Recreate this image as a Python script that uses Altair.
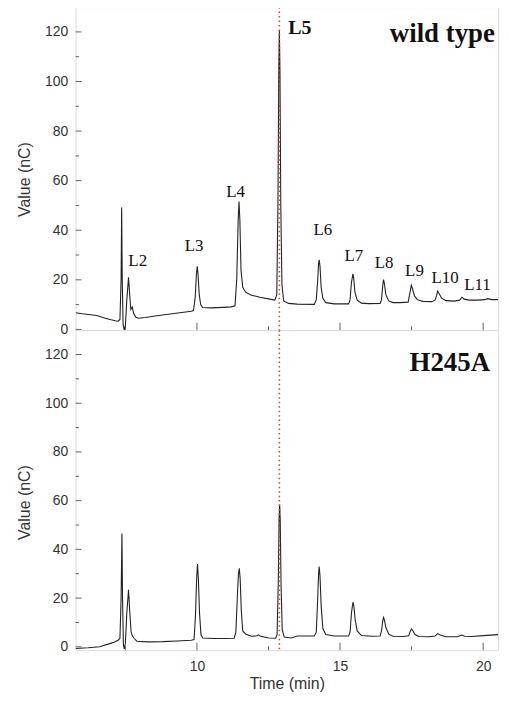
import altair as alt
import pandas as pd

# ---------------- data ----------------
# wild type trace (time in min, value in nC)
wt_time = [5.76, 6.0, 6.5, 6.8, 7.0, 7.15, 7.25, 7.31, 7.35, 7.37, 7.39, 7.42, 7.46,
           7.50, 7.55, 7.61, 7.65, 7.69, 7.74, 7.79, 7.86, 7.95, 8.2, 8.6, 9.0, 9.4,
           9.8, 9.88, 9.94, 9.98, 10.01, 10.04, 10.08, 10.13, 10.2, 10.5, 10.9, 11.2,
           11.33, 11.39, 11.44, 11.47, 11.50, 11.54, 11.6, 11.7, 11.9, 12.2, 12.5,
           12.72, 12.79, 12.83, 12.86, 12.88, 12.90, 12.93, 12.97, 13.03, 13.2, 13.5,
           14.1, 14.17, 14.22, 14.25, 14.27, 14.30, 14.34, 14.4, 14.5, 14.8, 15.3,
           15.35, 15.40, 15.45, 15.48, 15.52, 15.6, 15.75, 16.0, 16.4, 16.45, 16.49,
           16.52, 16.55, 16.6, 16.7, 16.85, 17.1, 17.38, 17.43, 17.49, 17.53, 17.6,
           17.7, 17.9, 18.2, 18.32, 18.37, 18.41, 18.46, 18.55, 18.7, 19.0, 19.18,
           19.26, 19.34, 19.5, 19.8, 20.05, 20.16, 20.3, 20.52]
wt_value = [6.7, 6.3, 5.6, 4.5, 3.9, 3.5, 3.3, 4.0, 20.0, 49.2, 20.0, 2.0, -0.3,
            1.5, 12.0, 21.0, 14.0, 8.0, 9.0, 6.5, 5.0, 4.5, 4.8, 5.5, 6.1, 6.7,
            7.3, 7.6, 13.0, 22.0, 25.5, 22.0, 14.0, 10.0, 8.8, 8.7, 8.9, 9.1,
            9.5, 20.0, 44.0, 51.6, 44.0, 24.0, 17.0, 15.0, 13.8, 13.0, 12.3,
            11.8, 14.0, 50.0, 105.0, 120.5, 105.0, 50.0, 18.0, 11.5, 10.5, 10.2,
            10.1, 12.0, 20.0, 26.5, 28.1, 25.5, 17.0, 12.5, 10.8, 10.3, 10.3,
            12.0, 19.0, 22.4, 20.5, 15.0, 11.8, 10.6, 10.4, 10.5, 12.0, 17.5,
            20.1, 18.5, 14.0, 11.5, 10.8, 10.8, 11.0, 14.0, 17.8, 16.5, 13.5,
            12.0, 11.3, 11.2, 11.8, 13.5, 15.4, 14.5, 12.6, 11.6, 11.4, 11.8,
            13.0, 12.2, 11.8, 11.8, 12.0, 12.4, 12.0, 12.0]

# H245A trace
mu_time = [5.76, 6.2, 6.6, 6.95, 7.1, 7.26, 7.31, 7.35, 7.38, 7.40, 7.43, 7.46,
           7.50, 7.55, 7.61, 7.65, 7.70, 7.75, 7.8, 7.9, 8.3, 8.8, 9.3, 9.8, 9.9,
           9.95, 9.99, 10.02, 10.05, 10.09, 10.14, 10.2, 10.6, 11.0, 11.3, 11.36,
           11.41, 11.45, 11.48, 11.51, 11.55, 11.6, 11.7, 11.9, 12.1, 12.15, 12.2,
           12.5, 12.75, 12.8, 12.84, 12.87, 12.89, 12.91, 12.94, 12.98, 13.05, 13.3,
           13.5, 14.1, 14.17, 14.22, 14.25, 14.27, 14.30, 14.34, 14.4, 14.5, 14.8,
           15.3, 15.35, 15.40, 15.45, 15.48, 15.53, 15.6, 15.75, 16.1, 16.4, 16.45,
           16.49, 16.52, 16.55, 16.6, 16.7, 16.85, 17.2, 17.4, 17.45, 17.5, 17.55,
           17.62, 17.75, 18.1, 18.32, 18.41, 18.5, 18.7, 19.1, 19.26, 19.35, 19.6,
           20.0, 20.52]
mu_value = [-0.7, -0.4, 0.0, 1.3, 1.9, 2.8, 3.5, 20.0, 46.5, 20.0, 1.0, -0.9,
            1.5, 14.0, 23.4, 15.0, 6.0, 4.4, 3.5, 2.3, 2.0, 2.1, 2.4, 2.7, 3.0,
            13.0, 28.0, 34.0, 28.0, 14.0, 5.0, 3.6, 3.4, 3.4, 3.5, 6.0,
            20.0, 30.0, 32.2, 28.0, 15.0, 6.5, 5.2, 4.3, 4.5, 4.9, 4.4,
            3.6, 3.5, 5.0, 25.0, 52.0, 58.4, 52.0, 25.0, 7.0, 4.0, 3.6,
            4.4, 4.4, 6.0, 20.0, 30.0, 32.9, 29.0, 17.0, 7.5, 5.0, 4.4,
            4.4, 6.0, 14.0, 18.3, 17.0, 11.0, 6.5, 4.6, 4.3, 4.4, 6.5,
            10.5, 12.0, 11.0, 8.0, 5.2, 4.3, 4.2, 4.5, 6.3, 7.3, 6.5,
            5.0, 4.2, 4.1, 4.4, 5.4, 4.8, 4.1, 4.1, 4.8, 4.3, 4.2,
            4.6, 5.0]

# peak labels (wild type panel)
peak_labels = ["L2", "L3", "L4", "L6", "L7", "L8", "L9", "L10", "L11"]
peak_label_time = [7.93, 9.90, 11.35, 14.40, 15.48, 16.54, 17.60, 18.67, 19.80]
peak_label_value = [25.6, 31.7, 53.6, 38.2, 27.5, 24.8, 21.4, 18.8, 15.7]
l5_label = ["L5"]
l5_time = [13.60]
l5_value = [119.2]

panel_names = ["wild type", "H245A"]
panel_name_time = [16.74, 17.43]
panel_name_value = [116.0, 113.1]

marker_time = [12.88]

y_major = [0, 20, 40, 60, 80, 100, 120]
y_minor = [10, 30, 50, 70, 90, 110]
x_major = [10, 15, 20]
x_minor = [7.5, 12.5, 17.5]

# ---------------- layout constants ----------------
X_DOMAIN = [5.76, 20.52]
W = 425
H_TOP = 325
H_BOTTOM = 322
INK = "#222222"
AXIS_GREY = "#333333"


def make_panel(times, values, y_domain, H, bottom, name, name_t, name_v, labels=None):
    xs = alt.Scale(domain=X_DOMAIN, nice=False, zero=False)
    ys = alt.Scale(domain=y_domain, nice=False, zero=False)

    if bottom:
        x_axis = alt.Axis(values=x_major, format="d", ticks=False, domain=False,
                          grid=False, labelFont="Liberation Sans", labelFontSize=14,
                          labelColor=AXIS_GREY, labelPadding=9,
                          titleFont="Liberation Sans",
                          titleFontSize=16, titleFontWeight="normal",
                          titleColor=AXIS_GREY, titlePadding=3)
    else:
        x_axis = alt.Axis(values=x_major, ticks=False, domain=False, grid=False,
                          labels=False)
    y_axis = alt.Axis(values=y_major, ticks=False, domain=False, grid=False,
                      labelFont="Liberation Sans", labelFontSize=14,
                      labelColor=AXIS_GREY, labelPadding=8,
                      titleFont="Liberation Sans",
                      titleFontSize=16, titleFontWeight="normal",
                      titleColor=AXIS_GREY, titlePadding=12, titleY=173)

    x_title = "Time (min)" if bottom else ""

    def X():
        return alt.X("t:Q", scale=xs, axis=x_axis, title=x_title)

    def Y():
        return alt.Y("v:Q", scale=ys, axis=y_axis, title="Value (nC)")

    trace = pd.DataFrame({"t": times, "v": values})
    line = alt.Chart(trace).mark_line(color=INK, strokeWidth=1.1, clip=True).encode(
        x=X(), y=Y(), order="t:Q",
    )

    marker = alt.Chart(pd.DataFrame({"t": marker_time})).mark_rule(
        color="#d0453a", strokeDash=[1.5, 3], strokeWidth=1.6
    ).encode(x=X())

    ymaj = alt.Chart(pd.DataFrame({"v": y_major})).mark_tick(
        orient="horizontal", color=INK, thickness=1).encode(
        y=Y(), x=alt.value(3), size=alt.value(6))
    ymin = alt.Chart(pd.DataFrame({"v": y_minor})).mark_tick(
        orient="horizontal", color=INK, thickness=1).encode(
        y=Y(), x=alt.value(1.75), size=alt.value(3.5))
    xmaj = alt.Chart(pd.DataFrame({"t": x_major})).mark_tick(
        orient="vertical", color=INK, thickness=1).encode(
        x=X(), y=alt.value(H - 3.75), size=alt.value(7.5))
    xmin = alt.Chart(pd.DataFrame({"t": x_minor})).mark_tick(
        orient="vertical", color=INK, thickness=1).encode(
        x=X(), y=alt.value(H - 2), size=alt.value(4))

    name_txt = alt.Chart(pd.DataFrame({"t": [name_t], "v": [name_v], "s": [name]})).mark_text(
        font="Liberation Serif", fontSize=27, fontWeight="bold", color="#111111",
        align="left", baseline="alphabetic").encode(
        x=X(), y=Y(), text="s:N")

    layers = [line, marker, ymaj, ymin, xmaj, xmin, name_txt]

    if labels is not None:
        ldf = pd.DataFrame({"t": labels[0], "v": labels[1], "s": labels[2]})
        ltxt = alt.Chart(ldf).mark_text(
            font="Liberation Serif", fontSize=17, color="#111111",
            align="center", baseline="alphabetic").encode(
            x=X(), y=Y(), text="s:N")
        l5df = pd.DataFrame({"t": l5_time, "v": l5_value, "s": l5_label})
        l5txt = alt.Chart(l5df).mark_text(
            font="Liberation Serif", fontSize=20, fontWeight="bold", color="#111111",
            align="center", baseline="alphabetic").encode(
            x=X(), y=Y(), text="s:N")
        layers += [ltxt, l5txt]

    return alt.layer(*layers).properties(width=W, height=H)


top = make_panel(wt_time, wt_value, [-0.3, 130], H_TOP, False, panel_names[0],
                 panel_name_time[0], panel_name_value[0],
                 labels=(peak_label_time, peak_label_value, peak_labels))
bottom = make_panel(mu_time, mu_value, [-1.4, 130], H_BOTTOM, True, panel_names[1],
                    panel_name_time[1], panel_name_value[1])

chart = alt.vconcat(top, bottom, spacing=0, bounds="flush").properties(
    padding={"left": 8, "top": -5, "right": 2, "bottom": 4}
).configure_view(stroke=INK, strokeWidth=1.2).configure(background="white")

chart.save("out.html", embed_options={"renderer": "svg", "actions": False})
